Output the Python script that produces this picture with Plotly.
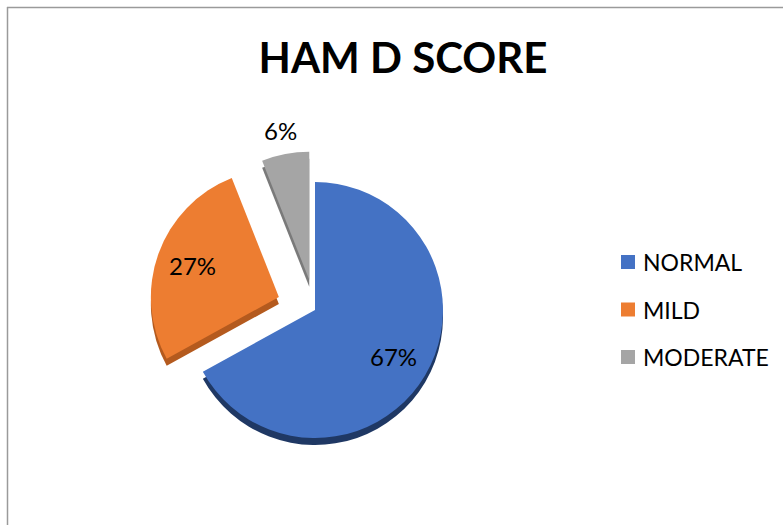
import math
import plotly.graph_objects as go

# HAM D score distribution
categories = ["NORMAL", "MILD", "MODERATE"]
shares = [67, 27, 6]

colors = ["#4472C4", "#ED7D31", "#A5A5A5"]
side_colors = ["#1F3864", "#B45A1E", "#7A7A7A"]
pulls = [0, 0.30, 0.24]
label_radius = [0.71, 0.72, 1.19]   # as a fraction of the pie radius

W, H = 783, 525
FONT = "Lato"

# pie centre and radius in pixels
cx, cy, r = 315, 310, 128
max_pull = max(pulls)
half = r * (1 + max_pull)


def domain(dy=0):
    x0, x1 = (cx - half) / W, (cx + half) / W
    y0 = 1 - (cy + dy + half) / H
    y1 = 1 - (cy + dy - half) / H
    return dict(x=[x0, x1], y=[y0, y1])


fig = go.Figure()

# darker copy underneath gives the slices a bevelled side wall
fig.add_trace(go.Pie(
    labels=categories, values=shares, sort=False, direction="clockwise",
    rotation=0, pull=pulls, domain=domain(7),
    marker=dict(colors=side_colors, line=dict(width=0)),
    textinfo="none", hoverinfo="skip", showlegend=False,
))

fig.add_trace(go.Pie(
    labels=categories, values=shares, sort=False, direction="clockwise",
    rotation=0, pull=pulls, domain=domain(0),
    marker=dict(colors=colors, line=dict(width=0)),
    textinfo="none", showlegend=False,
))

# percentage labels placed along each slice's mid angle
total = sum(shares)
start = 0.0
for v, p, lr in zip(shares, pulls, label_radius):
    mid = 2 * math.pi * (start + v / 2) / total   # clockwise from 12 o'clock
    start += v
    dx, dy = math.sin(mid), -math.cos(mid)
    px = cx + (p + lr) * r * dx
    py = cy + (p + lr) * r * dy
    fig.add_annotation(
        x=px / W, y=1 - py / H, xref="paper", yref="paper",
        text=f"{round(100 * v / total)}%", showarrow=False,
        xanchor="center", yanchor="middle",
        font=dict(family=FONT, size=24, color="#000000"),
    )

# legend: colour squares with category names
leg_x, leg_y0, leg_step, sq = 621, 262, 47.5, 14
for i, (name, col) in enumerate(zip(categories, colors)):
    yc = leg_y0 + i * leg_step
    fig.add_shape(
        type="rect", xref="paper", yref="paper",
        x0=leg_x / W, x1=(leg_x + sq) / W,
        y0=1 - (yc + sq / 2) / H, y1=1 - (yc - sq / 2) / H,
        fillcolor=col, line=dict(width=0),
    )
    fig.add_annotation(
        x=(leg_x + sq + 6) / W, y=1 - yc / H, xref="paper", yref="paper",
        text=name, showarrow=False, xanchor="left", yanchor="middle",
        font=dict(family=FONT, size=23, color="#000000"),
    )

# chart area frame (top and left edges)
fig.add_shape(type="line", xref="paper", yref="paper",
              x0=7 / W, x1=1, y0=1 - 7.5 / H, y1=1 - 7.5 / H,
              line=dict(color="#9A9A9A", width=1.5))
fig.add_shape(type="line", xref="paper", yref="paper",
              x0=7.5 / W, x1=7.5 / W, y0=0, y1=1 - 7 / H,
              line=dict(color="#9A9A9A", width=1.5))

fig.update_layout(
    width=W, height=H,
    margin=dict(l=0, r=0, t=0, b=0),
    paper_bgcolor="white", plot_bgcolor="white",
    title=dict(
        text="<b>HAM D SCORE</b>", x=403 / W, xanchor="center",
        y=1 - 58 / H, yanchor="middle",
        font=dict(family=FONT, size=42, color="#000000"),
    ),
)

fig.write_html("out.html")
